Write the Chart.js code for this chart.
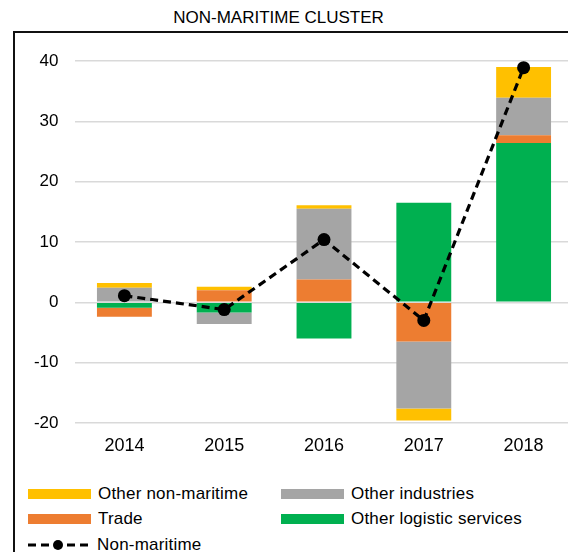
<!DOCTYPE html>
<html>
<head>
<meta charset="utf-8">
<script src="https://cdn.jsdelivr.net/npm/chart.js@4"></script>
<style>
  html, body { margin: 0; padding: 0; background: #fff; }
  body { width: 568px; height: 552px; overflow: hidden; position: relative;
         font-family: "Liberation Sans", Arial, sans-serif; color: #000; }
  #frame { position: absolute; left: 13px; top: 31px; width: 700px; height: 700px;
           border-left: 2px solid #111; border-top: 2px solid #111; box-sizing: border-box; }
  #title { position: absolute; left: 0; top: 8px; width: 557px; text-align: center;
           font-size: 17px; line-height: 20px; }
  #chart { position: absolute; left: 0; top: 0; }
  #legend { position: absolute; left: 28px; top: 481px; display: grid;
            grid-template-columns: 253px 253px; grid-auto-rows: 25.5px; font-size: 17px; }
  .item { display: flex; align-items: center; white-space: nowrap; letter-spacing: 0.2px; }
  .swatch { width: 63px; height: 10px; margin-right: 7px; flex: none; }
  .lineitem { grid-column: 1 / span 2; }
  .lineitem svg { margin-right: 9px; flex: none; }
</style>
</head>
<body>
<div id="frame"></div>
<div id="title">NON-MARITIME CLUSTER</div>
<canvas id="chart" width="580" height="463"></canvas>
<div id="legend"></div>
<script>
  const years = ['2014', '2015', '2016', '2017', '2018'];

  // contributions by component (percentage points)
  const otherLogistic = [-0.9, -1.7, -6.0, 16.5, 26.4];
  const trade = [-1.5, 2.0, 3.8, -6.5, 1.3];
  const otherIndustries = [2.4, -1.9, 11.7, -11.1, 6.2];
  const otherNonMaritime = [0.8, 0.6, 0.6, -2.0, 5.1];
  const nonMaritime = [1.1, -1.2, 10.4, -3.0, 38.9];

  const yTicks = [-20, -10, 0, 10, 20, 30, 40];

  const FONT = '"Liberation Sans", Arial, sans-serif';

  const COLORS = {
    yellow: '#FFC000',
    gray: '#A5A5A5',
    orange: '#ED7D31',
    green: '#00B050',
  };

  function bar(label, data, color) {
    return {
      type: 'bar',
      label,
      data,
      backgroundColor: color,
      borderWidth: 0,
      barPercentage: 1,
      categoryPercentage: 0.55,
      order: 1,
    };
  }

  // stacking order from the axis outwards: green, orange, gray, yellow
  const datasets = [
    bar('Other logistic services', otherLogistic, COLORS.green),
    bar('Trade', trade, COLORS.orange),
    bar('Other industries', otherIndustries, COLORS.gray),
    bar('Other non-maritime', otherNonMaritime, COLORS.yellow),
    {
      type: 'line',
      label: 'Non-maritime',
      data: nonMaritime,
      stack: 'line',
      borderColor: '#000',
      backgroundColor: '#000',
      borderWidth: 3.2,
      borderDash: [8, 5],
      pointRadius: 6.5,
      pointBackgroundColor: '#000',
      pointBorderWidth: 0,
      tension: 0,
      fill: false,
      order: 0,
    },
  ];

  new Chart(document.getElementById('chart'), {
    data: { labels: years, datasets },
    options: {
      responsive: false,
      animation: false,
      layout: { padding: { top: 61, right: 0, bottom: 0, left: 0 } },
      plugins: {
        legend: { display: false },
        title: { display: false },
        tooltip: { enabled: false },
      },
      scales: {
        x: {
          stacked: true,
          grid: { display: false, drawTicks: false },
          border: { display: false },
          ticks: {
            color: '#000',
            font: { family: FONT, size: 18 },
            padding: 12,
          },
          afterFit: (scale) => { scale.height = 40; },
        },
        y: {
          stacked: true,
          min: yTicks[0],
          max: yTicks[yTicks.length - 1],
          afterBuildTicks: (scale) => { scale.ticks = yTicks.map((v) => ({ value: v })); },
          grid: { color: '#d9d9d9', lineWidth: 1.5, drawTicks: false },
          border: { display: false },
          ticks: {
            color: '#000',
            font: { family: FONT, size: 17 },
            padding: 16,
          },
          afterFit: (scale) => { scale.width = 74.5; },
        },
      },
    },
  });

  // legend: two columns of bar swatches, then the line entry
  const legendItems = [
    ['Other non-maritime', COLORS.yellow],
    ['Other industries', COLORS.gray],
    ['Trade', COLORS.orange],
    ['Other logistic services', COLORS.green],
  ];
  const legend = document.getElementById('legend');
  legend.innerHTML = legendItems.map(([name, color]) => `
    <div class="item"><span class="swatch" style="background:${color}"></span>${name}</div>
  `).join('') + `
    <div class="item lineitem">
      <svg width="60" height="14" viewBox="0 0 60 14">
        <line x1="0" y1="7" x2="60" y2="7" stroke="#000" stroke-width="3.2" stroke-dasharray="8 5"/>
        <circle cx="30" cy="7" r="5" fill="#000"/>
      </svg>Non-maritime</div>
  `;
</script>
</body>
</html>
